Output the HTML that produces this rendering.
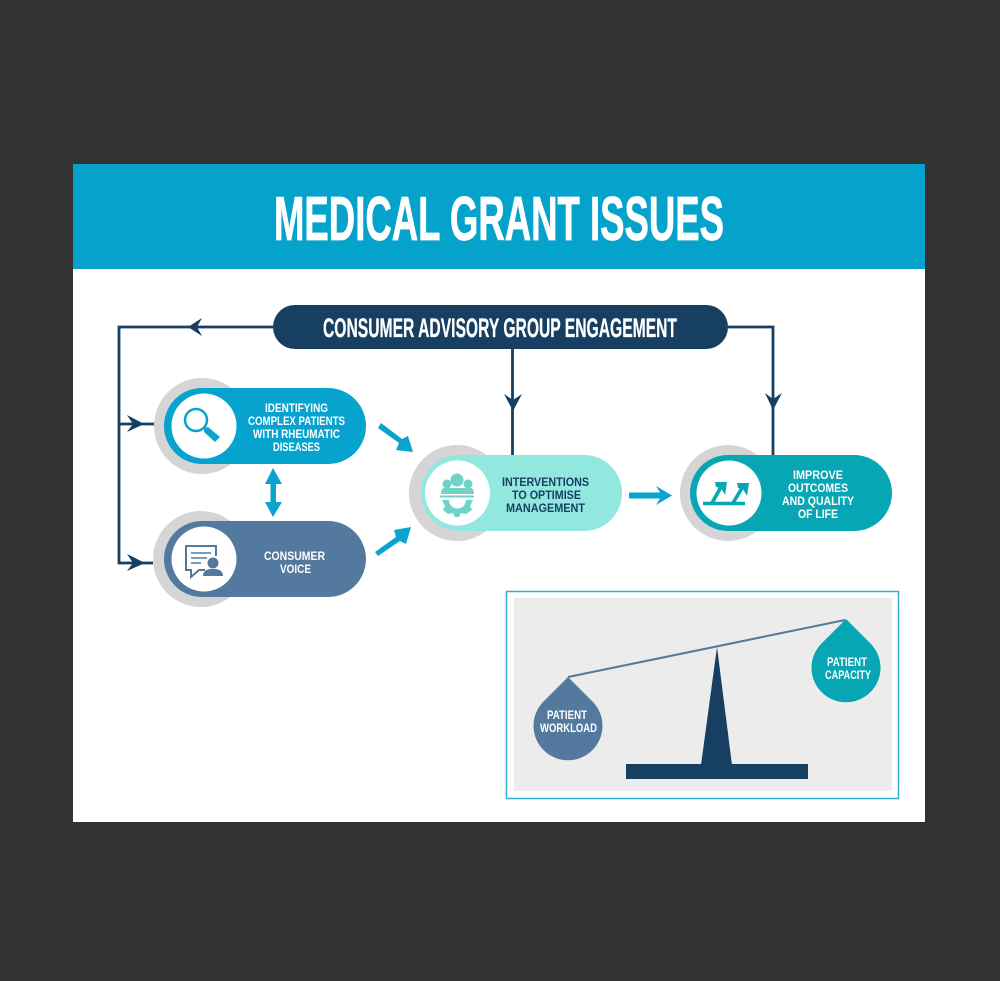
<!DOCTYPE html>
<html><head><meta charset="utf-8"><style>html,body{margin:0;padding:0;background:#333}svg{display:block;filter:blur(.3px)}text{font-family:"Liberation Sans",sans-serif;font-weight:bold}.s{font-size:12px;fill:#fff}.d{fill:#173f62}</style></head>
<body>
<svg width="1000" height="981" viewBox="0 0 1000 981" xmlns="http://www.w3.org/2000/svg">
<rect width="1000" height="981" fill="#333"/>
<rect x="73" y="164" width="852" height="658" fill="#fff"/>
<rect x="73" y="164" width="852" height="105" fill="#05a3cc"/>
<text x="274" y="240" font-size="62" fill="#fff" stroke="#fff" stroke-width=".8" textLength="450" lengthAdjust="spacingAndGlyphs">MEDICAL GRANT ISSUES</text>

<!-- connectors -->
<g fill="none" stroke="#173f62" stroke-width="2.800">
<path d="M274 327H119V563H153M119 424H155"/>
<path d="M728 327H773V455"/>
<path d="M512.500 349V455"/>
</g>
<g fill="#173f62">
<path d="M188 327L202 318L197 327L202 336Z"/>
<path d="M144 424L127 415L133 424L127 432Z"/>
<path d="M145 563L127 554L133 563L127 571Z"/>
<path d="M513 411L504 394L513 400L522 394Z"/>
<path d="M773 410L765 393L773 399L782 393Z"/>
</g>
<rect x="273" y="305" width="455" height="44" rx="22" fill="#173f62"/>
<text x="323" y="337" font-size="26.500" fill="#fff" stroke="#fff" stroke-width=".3" textLength="354" lengthAdjust="spacingAndGlyphs">CONSUMER ADVISORY GROUP ENGAGEMENT</text>

<!-- cyan arrows -->
<g fill="#0aa3cd">
<path d="M381 423L402 439L408 436L413 452L396 450L399 443L378 428Z"/>
<path d="M375 552L396 537L394 530L411 527L406 544L400 541L378 556Z"/>
<path d="M629 492.500H660L656 486L672 495.500L656 505L660 498.500H629Z"/>
<path d="M273 468L282 484H276V502H282L273 517L265 502H270.500V484H265Z"/>
</g>

<!-- pill 1 -->
<circle cx="202" cy="426" r="48" fill="#d5d5d5"/>
<rect x="164" y="388" width="202" height="76" rx="38" fill="#06a3cf"/>
<circle cx="204" cy="426" r="32.500" fill="#fff"/>
<circle cx="196" cy="420" r="11" fill="none" stroke="#0aa3cd" stroke-width="2.500"/>
<path d="M204 428L208 427L220 437L215 442L204 432Z" fill="#0aa3cd"/>
<text class="s" x="265" y="412" textLength="63" lengthAdjust="spacingAndGlyphs">IDENTIFYING</text>
<text class="s" x="248" y="425" textLength="97" lengthAdjust="spacingAndGlyphs">COMPLEX PATIENTS</text>
<text class="s" x="253" y="438" textLength="87" lengthAdjust="spacingAndGlyphs">WITH RHEUMATIC</text>
<text class="s" x="273" y="451" textLength="47" lengthAdjust="spacingAndGlyphs">DISEASES</text>

<!-- pill 2 -->
<circle cx="201" cy="559" r="48" fill="#d5d5d5"/>
<rect x="164" y="521" width="202" height="76" rx="38" fill="#537a9e"/>
<circle cx="204" cy="559" r="32.500" fill="#fff"/>
<path d="M216 556V546H186V570H191V577L199 570H205" fill="none" stroke="#537a9e" stroke-width="2"/>
<path d="M191 553H211M191 558H207M191 563H201" stroke="#537a9e" stroke-width="1.500" fill="none"/>
<circle cx="213" cy="563" r="5.500" fill="#537a9e"/>
<path d="M203 576Q203 570 210 569H216Q223 570 223 576Z" fill="#537a9e"/>
<text class="s" x="264" y="560" textLength="61" lengthAdjust="spacingAndGlyphs">CONSUMER</text>
<text class="s" x="280" y="573" textLength="31" lengthAdjust="spacingAndGlyphs">VOICE</text>

<!-- pill 3 -->
<circle cx="457" cy="493" r="48" fill="#d5d5d5"/>
<rect x="421" y="455" width="201" height="76" rx="38" fill="#92e8df"/>
<circle cx="457.500" cy="493" r="32.500" fill="#fff"/>
<g fill="#6fd3c9">
<circle cx="457" cy="480" r="6.500"/><circle cx="447" cy="484" r="4.500"/><circle cx="468" cy="484" r="4.500"/>
<path d="M441 494Q441 487 447 488H468Q474 487 474 494Z"/>
<rect x="440" y="495.500" width="34" height="2"/>
<path d="M442 500H449A8.500 8.500 0 0 0 466 500H473L470 506L472 510L466 514L461 513L459 517H455L453 513L448 514L443 510L445 506Z"/>
</g>
<text class="s d" x="502" y="486" textLength="87" lengthAdjust="spacingAndGlyphs">INTERVENTIONS</text>
<text class="s d" x="512" y="499" textLength="69" lengthAdjust="spacingAndGlyphs">TO OPTIMISE</text>
<text class="s d" x="506" y="512" textLength="79" lengthAdjust="spacingAndGlyphs">MANAGEMENT</text>

<!-- pill 4 -->
<circle cx="728" cy="493" r="48" fill="#d5d5d5"/>
<rect x="690" y="455" width="202" height="76" rx="38" fill="#06a6b4"/>
<circle cx="729" cy="493" r="32.500" fill="#fff"/>
<g fill="none" stroke="#06a6b4" stroke-width="3.600">
<path d="M703 503.500H745"/>
<path d="M712 503L721 487"/>
<path d="M733 503L742 488"/>
</g>
<g fill="#06a6b4">
<path d="M715 482H727L725 495L721 488L716 487Z"/>
<path d="M737 483H749L747 496L743 489L738 488Z"/>
</g>
<text class="s" x="793" y="479" textLength="50" lengthAdjust="spacingAndGlyphs">IMPROVE</text>
<text class="s" x="788" y="492" textLength="60" lengthAdjust="spacingAndGlyphs">OUTCOMES</text>
<text class="s" x="782" y="505" textLength="72" lengthAdjust="spacingAndGlyphs">AND QUALITY</text>
<text class="s" x="798" y="518" textLength="40" lengthAdjust="spacingAndGlyphs">OF LIFE</text>

<!-- balance -->
<rect x="506.500" y="591.500" width="392" height="207" fill="#fff" stroke="#35aecb" stroke-width="1.500"/>
<rect x="514" y="598" width="378" height="193" fill="#ececec"/>
<path d="M568 677L845 620" stroke="#537a9e" stroke-width="2" fill="none"/>
<path d="M717 647L732 765H701Z" fill="#173f62"/>
<rect x="626" y="764" width="182" height="15" fill="#173f62"/>
<path d="M568 677L592 701A34.500 34.500 0 1 1 544 701Z" fill="#537a9e"/>
<path d="M846 619L870 643A34.500 34.500 0 1 1 822 643Z" fill="#06a6b4"/>
<text class="s" x="547" y="719" textLength="40" lengthAdjust="spacingAndGlyphs">PATIENT</text>
<text class="s" x="540" y="732" textLength="57" lengthAdjust="spacingAndGlyphs">WORKLOAD</text>
<text class="s" x="827" y="666" textLength="40" lengthAdjust="spacingAndGlyphs">PATIENT</text>
<text class="s" x="825" y="679" textLength="46" lengthAdjust="spacingAndGlyphs">CAPACITY</text>
</svg>
</body></html>
